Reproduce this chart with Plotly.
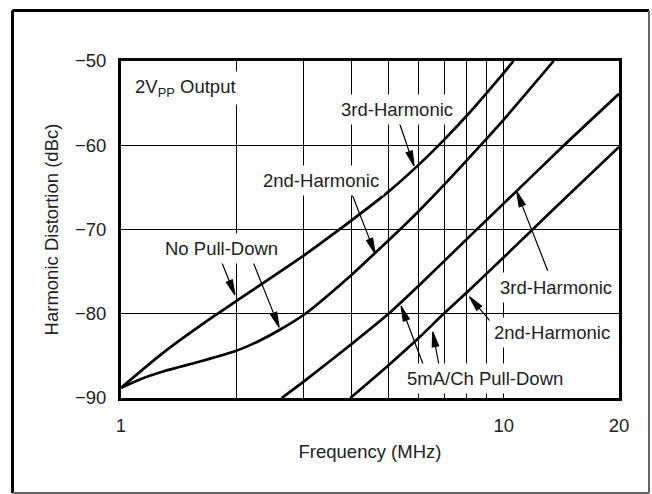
import math
import plotly.graph_objects as go

# ---- data ----
freq_npd_3rd = [1, 1.3, 1.76, 2, 3, 3.67, 5, 6, 7, 8, 10, 10.6]
dbc_npd_3rd = [-88.8, -84.5, -80.2, -78.5, -73.1, -70.2, -65.5, -62.3, -59.3, -56.5, -51.4, -50.0]

freq_npd_2nd = [1, 1.12, 1.3, 1.6, 2, 2.3, 2.6, 3.03, 4, 4.61, 5.5, 6, 7, 8.74, 10, 13.5]
dbc_npd_2nd = [-88.8, -87.8, -86.8, -85.7, -84.4, -83.2, -81.9, -80.0, -75.4, -72.8, -69.5, -67.8, -64.65, -59.9, -56.95, -50.0]

freq_5ma_3rd = [2.63, 3, 4, 5, 6.05, 8.32, 10, 14.3, 20]
dbc_5ma_3rd = [-90, -88.06, -83.6, -80.0, -76.5, -70.4, -66.9, -60.1, -53.9]

freq_5ma_2nd = [3.97, 5, 6.05, 6.93, 8.12, 10, 11.95, 14.3, 20]
dbc_5ma_2nd = [-90, -86.1, -82.7, -80.1, -77.2, -73.3, -69.9, -66.5, -60.2]

x_tick_vals = [1, 10, 20]
x_tick_text = ["1", "10", "20"]
x_minor_grid = [2, 3, 4, 5, 6, 7, 8, 9]
y_tick_vals = [-90, -80, -70, -60, -50]
y_tick_text = ["\u221290", "\u221280", "\u221270", "\u221260", "\u221250"]

label_text = ["2V<sub>PP</sub> Output", "3rd-Harmonic", "2nd-Harmonic", "No Pull-Down",
              "3rd-Harmonic", "2nd-Harmonic", "5mA/Ch Pull-Down"]
label_freq = [1.056, 5.26, 3.325, 1.828, 13.67, 13.39, 8.93]
label_dbc = [-53.2, -55.7, -64.2, -72.3, -76.86, -82.25, -87.74]
label_anchor = ["left", "center", "center", "center", "center", "center", "center"]

arrow_tip_freq = [5.83, 4.61, 1.985, 2.59, 10.81, 8.13, 5.39, 6.52]
arrow_tip_dbc = [-62.46, -72.83, -77.77, -81.61, -65.51, -77.98, -79.08, -82.13]
arrow_tail_dx = [-15.7, -24, -13.3, -26, 31, 23.4, 23, 6.3]
arrow_tail_dy = [-46, -61.6, -32.7, -65, 79, 27.3, 60.7, 33.3]

X_MAX = 20
Y_MIN, Y_MAX = -90, -50

fig = go.Figure()
for fx, fy in [(freq_npd_3rd, dbc_npd_3rd), (freq_npd_2nd, dbc_npd_2nd),
               (freq_5ma_3rd, dbc_5ma_3rd), (freq_5ma_2nd, dbc_5ma_2nd)]:
    fig.add_trace(go.Scatter(x=fx, y=fy, mode="lines",
                             line=dict(color="black", width=2.7, shape="spline", smoothing=0.7),
                             hoverinfo="skip", showlegend=False))

annotations = []
for t, f, d, a in zip(label_text, label_freq, label_dbc, label_anchor):
    annotations.append(dict(text=t, x=math.log10(f), y=d, xref="x", yref="y",
                            showarrow=False, xanchor=a, yanchor="middle",
                            bgcolor="white", borderpad=4,
                            font=dict(size=18.5, color="#222")))


def arrow_path(dx, dy_down, L=15.0, w=3.2):
    sx, sy = dx, -dy_down
    d = math.hypot(sx, sy)
    ux, uy = -sx / d, -sy / d
    bx, by = -L * ux, -L * uy
    nx, ny = -uy, ux
    return (f"M{sx:.2f},{sy:.2f} L{bx:.2f},{by:.2f} "
            f"M{bx + w * nx:.2f},{by + w * ny:.2f} L0,0 L{bx - w * nx:.2f},{by - w * ny:.2f} Z")


shapes = []
for f, d, dx, dy in zip(arrow_tip_freq, arrow_tip_dbc, arrow_tail_dx, arrow_tail_dy):
    shapes.append(dict(type="path", xref="paper", yref="paper",
                       xsizemode="pixel", ysizemode="pixel",
                       xanchor=math.log10(f) / math.log10(X_MAX),
                       yanchor=(d - Y_MIN) / (Y_MAX - Y_MIN),
                       path=arrow_path(dx, dy), fillcolor="black",
                       line=dict(color="black", width=1.2), layer="above"))

# outer frame
fl, fr, ft, fb = -0.2179, 1.0602, 1.1499, -0.2819
shapes += [
    dict(type="line", xref="paper", yref="paper", x0=fl, x1=fl, y0=fb, y1=ft, line=dict(color="black", width=3)),
    dict(type="line", xref="paper", yref="paper", x0=fl, x1=fr, y0=ft, y1=ft, line=dict(color="black", width=3)),
    dict(type="line", xref="paper", yref="paper", x0=fr, x1=fr, y0=fb, y1=ft, line=dict(color="#666", width=2)),
    dict(type="line", xref="paper", yref="paper", x0=fl, x1=fr, y0=fb, y1=fb, line=dict(color="#666", width=2)),
]

fig.update_layout(
    width=652, height=494,
    margin=dict(l=121, r=33, t=61, b=96, autoexpand=False),
    paper_bgcolor="white", plot_bgcolor="white",
    font=dict(family="Arial, Liberation Sans, sans-serif", size=18.5, color="#222"),
    showlegend=False,
    annotations=annotations,
    shapes=shapes,
)
fig.update_xaxes(type="log", range=[0, math.log10(X_MAX)], automargin=False,
                 tickmode="array", tickvals=x_tick_vals, ticktext=x_tick_text,
                 showgrid=True, gridcolor="black", gridwidth=1,
                 minor=dict(tickvals=x_minor_grid, showgrid=True, gridcolor="black", gridwidth=1, ticks=""),
                 showline=True, linecolor="black", linewidth=3, mirror=True,
                 ticks="", zeroline=False, ticklabelstandoff=9,
                 title=dict(text="Frequency (MHz)", standoff=10, font=dict(size=18.5)))
fig.update_yaxes(range=[Y_MIN, Y_MAX], automargin=False,
                 tickmode="array", tickvals=y_tick_vals, ticktext=y_tick_text,
                 showgrid=True, gridcolor="black", gridwidth=1,
                 showline=True, linecolor="black", linewidth=3, mirror=True,
                 ticks="", zeroline=False, ticklabelstandoff=8,
                 title=dict(text="Harmonic Distortion (dBc)", standoff=12, font=dict(size=18.5)))

fig.write_html("out.html", config={"displayModeBar": False},
               post_script="document.body.style.margin='0';document.body.style.overflow='hidden';")
